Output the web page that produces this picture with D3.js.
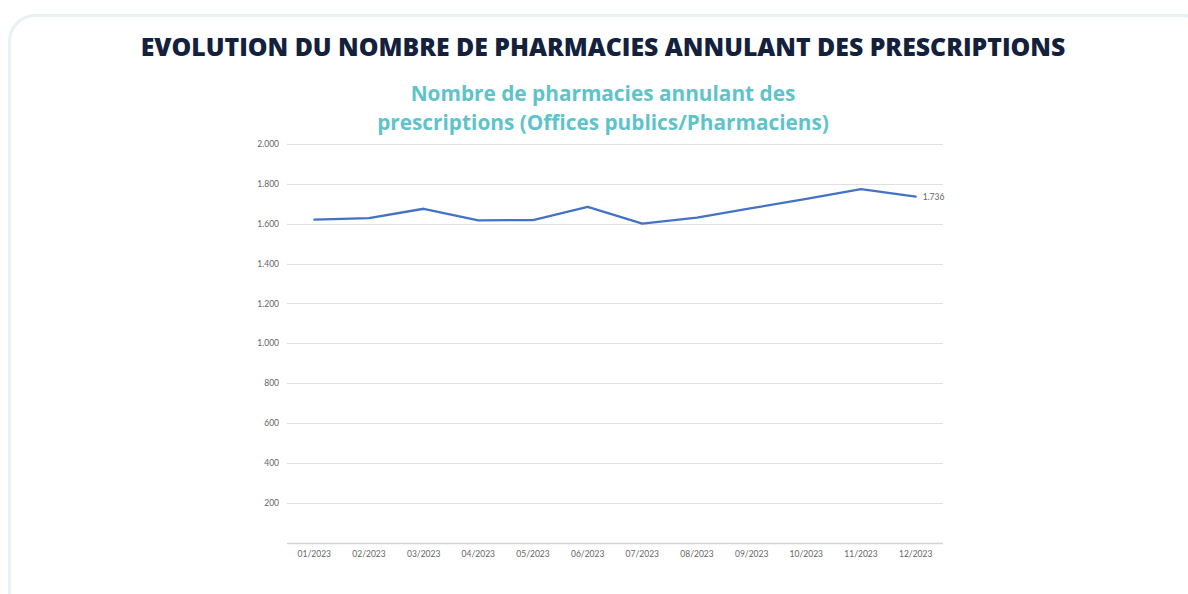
<!DOCTYPE html>
<html>
<head>
<meta charset="utf-8">
<script src="https://cdn.jsdelivr.net/npm/d3@7"></script>
<style>
  html, body { margin: 0; padding: 0; background: #fff; }
  svg { display: block; }
</style>
</head>
<body>
<svg id="chart" width="1188" height="594"></svg>
<script>
// data
var months = ["01/2023","02/2023","03/2023","04/2023","05/2023","06/2023",
              "07/2023","08/2023","09/2023","10/2023","11/2023","12/2023"]
var pharmacies = [1620, 1628, 1675, 1617, 1618, 1684, 1600, 1630, 1678, 1725, 1773, 1736]
var yTicks = [200, 400, 600, 800, 1000, 1200, 1400, 1600, 1800, 2000]

var title = "EVOLUTION DU NOMBRE DE PHARMACIES ANNULANT DES PRESCRIPTIONS"
var subtitle = ["Nombre de pharmacies annulant des", "prescriptions (Offices publics/Pharmaciens)"]

var svg = d3.select("#chart")

// card behind everything
svg.append("rect")
   .attr("x", 9.5).attr("y", 15.5)
   .attr("width", 1200).attr("height", 620)
   .attr("rx", 26)
   .attr("fill", "#fff")
   .attr("stroke", "#e7f2f6")
   .attr("stroke-width", 3)

svg.append("text")
   .attr("x", 603).attr("y", 56)
   .attr("text-anchor", "middle")
   .style("font-family", "'Open Sans', sans-serif")
   .style("font-weight", 800)
   .style("font-size", "24.8px")
   .attr("fill", "#14213d")
   .text(title)

svg.selectAll(".sub")
   .data(subtitle)
   .enter()
   .append("text")
   .attr("class", "sub")
   .attr("x", 603)
   .attr("y", function(d, i){ return 101 + i * 29; })
   .attr("text-anchor", "middle")
   .style("font-family", "'Open Sans', sans-serif")
   .style("font-weight", 700)
   .style("font-size", "20.8px")
   .attr("fill", "#5ec3ca")
   .text(function(d){ return d; })

var plot = {left: 287, right: 943, top: 144, bottom: 542.5}

var xScale = d3.scaleBand()
               .domain(months)
               .range([plot.left, plot.right])

var yScale = d3.scaleLinear()
               .domain([0, 2000])
               .range([plot.bottom, plot.top])

var fmt = function(v){ return d3.format(",")(v).replace(/,/g, "."); }

// gridlines + baseline
svg.append("g")
   .selectAll("line")
   .data([0].concat(yTicks))
   .enter()
   .append("line")
   .attr("x1", plot.left).attr("x2", plot.right)
   .attr("y1", function(d){ return Math.round(yScale(d)) + 0.5; })
   .attr("y2", function(d){ return Math.round(yScale(d)) + 0.5; })
   .attr("stroke", function(d){ return d === 0 ? "#d4d4d4" : "#e0e0e0"; })
   .attr("stroke-width", function(d){ return d === 0 ? 1.5 : 1.2; })

var yAxis = d3.axisLeft(yScale)
              .tickValues(yTicks)
              .tickSize(0)
              .tickPadding(8)
              .tickFormat(fmt)

svg.append("g")
   .attr("transform", "translate(" + plot.left + ",0)")
   .call(yAxis)
   .call(function(g){ g.select(".domain").remove(); })
   .selectAll("text")
   .style("font-family", "Lato, sans-serif")
   .style("font-size", "8.5px")
   .attr("fill", "#666")

var xAxis = d3.axisBottom(xScale)
              .tickSize(0)
              .tickPadding(8)

svg.append("g")
   .attr("transform", "translate(0," + plot.bottom + ")")
   .call(xAxis)
   .call(function(g){ g.select(".domain").remove(); })
   .selectAll("text")
   .style("font-family", "Lato, sans-serif")
   .style("font-size", "8.5px")
   .attr("fill", "#666")

var line = d3.line()
             .x(function(d, i){ return xScale(months[i]) + xScale.bandwidth() / 2; })
             .y(function(d){ return yScale(d); })

svg.append("path")
   .datum(pharmacies)
   .attr("d", line)
   .attr("fill", "none")
   .attr("stroke", "#4472c4")
   .attr("stroke-width", 2.3)
   .attr("stroke-linejoin", "round")
   .attr("stroke-linecap", "round")

// label on the last point only
var last = pharmacies.length - 1
svg.append("text")
   .attr("x", xScale(months[last]) + xScale.bandwidth() / 2 + 7)
   .attr("y", yScale(pharmacies[last]) + 3)
   .style("font-family", "Lato, sans-serif")
   .style("font-size", "8.5px")
   .attr("fill", "#666")
   .text(fmt(pharmacies[last]))
</script>
</body>
</html>
